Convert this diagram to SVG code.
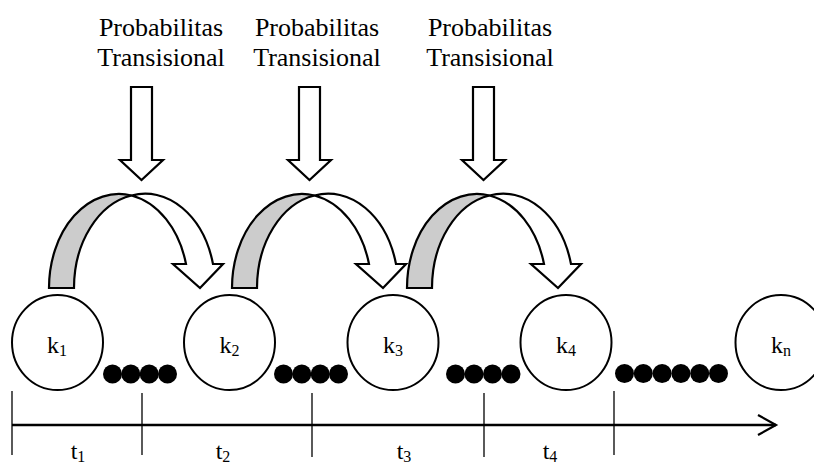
<svg xmlns="http://www.w3.org/2000/svg" width="814" height="464" viewBox="0 0 814 464">
<defs>
<style>
.t{font-family:"Liberation Serif","Times New Roman",serif;fill:#000}
.lbl{font-size:26px;text-anchor:middle}
.k{font-size:24px;text-anchor:middle}
.node{fill:#fff;stroke:#000;stroke-width:2}
.grey{fill:#cccccc;stroke:#000;stroke-width:2.2;stroke-linejoin:miter}
.white{fill:#fff;stroke:#000;stroke-width:2.2;stroke-linejoin:miter}
.dot{fill:#000}
.tick{stroke:#000;stroke-width:1.3}
</style>
<g id="curve">
<path class="grey" d="M49,288 A70,94 0 0 1 131.5,195.5 A70,94 0 0 0 74,288 Z"/>
<path class="white" d="M131.5,195.5 A70,94 0 0 1 213,264 L223,264 L200,288 L173,264 L186,264 A70,94 0 0 0 131.5,195.5 Z"/>
</g>
<path id="down" class="white" d="M-10.5,0 H10.5 V73 H21.5 L0,93 L-21.5,73 H-10.5 Z"/>
</defs>

<g id="labels">
<text class="t lbl" x="161" y="36">Probabilitas</text>
<text class="t lbl" x="161" y="66">Transisional</text>
<text class="t lbl" x="317" y="36">Probabilitas</text>
<text class="t lbl" x="317" y="66">Transisional</text>
<text class="t lbl" x="490" y="36">Probabilitas</text>
<text class="t lbl" x="490" y="66">Transisional</text>
</g>

<g id="connectors">
<use href="#down" x="141.5" y="87"/>
<use href="#down" x="309.5" y="87"/>
<use href="#down" x="483.5" y="87"/>
<use href="#curve"/>
<use href="#curve" x="183"/>
<use href="#curve" x="358"/>
</g>

<g id="k1">
<ellipse class="node" cx="57.5" cy="342.5" rx="45.5" ry="47.5"/>
<text class="t k" x="57" y="353">k<tspan font-size="16" dy="3">1</tspan></text>
</g>
<g id="k2">
<ellipse class="node" cx="229.5" cy="342.5" rx="45.5" ry="47.5"/>
<text class="t k" x="229.5" y="353">k<tspan font-size="16" dy="3">2</tspan></text>
</g>
<g id="k3">
<ellipse class="node" cx="393" cy="342.5" rx="45.5" ry="47.5"/>
<text class="t k" x="393" y="353">k<tspan font-size="16" dy="3">3</tspan></text>
</g>
<g id="k4">
<ellipse class="node" cx="566" cy="342.5" rx="45.5" ry="47.5"/>
<text class="t k" x="566" y="353">k<tspan font-size="16" dy="3">4</tspan></text>
</g>
<g id="kn">
<ellipse class="node" cx="781" cy="342.5" rx="45.5" ry="47.5"/>
<text class="t k" x="781" y="353">k<tspan font-size="16" dy="3">n</tspan></text>
</g>

<g id="dots">
<circle class="dot" cx="112.5" cy="374" r="9.5"/>
<circle class="dot" cx="130.8" cy="374" r="9.5"/>
<circle class="dot" cx="149.2" cy="374" r="9.5"/>
<circle class="dot" cx="167.5" cy="374" r="9.5"/>
<circle class="dot" cx="283.5" cy="374" r="9.5"/>
<circle class="dot" cx="301.8" cy="374" r="9.5"/>
<circle class="dot" cx="320.2" cy="374" r="9.5"/>
<circle class="dot" cx="338.5" cy="374" r="9.5"/>
<circle class="dot" cx="455.5" cy="374" r="9.5"/>
<circle class="dot" cx="474" cy="374" r="9.5"/>
<circle class="dot" cx="492.5" cy="374" r="9.5"/>
<circle class="dot" cx="511" cy="374" r="9.5"/>
<circle class="dot" cx="624.5" cy="373.5" r="9.5"/>
<circle class="dot" cx="643.3" cy="373.5" r="9.5"/>
<circle class="dot" cx="662.1" cy="373.5" r="9.5"/>
<circle class="dot" cx="680.9" cy="373.5" r="9.5"/>
<circle class="dot" cx="699.7" cy="373.5" r="9.5"/>
<circle class="dot" cx="718.5" cy="373.5" r="9.5"/>
</g>

<g id="timeline">
<line x1="12" y1="425" x2="776" y2="425" stroke="#000" stroke-width="2.5"/>
<polyline points="758,415 776,425 758,435" fill="none" stroke="#000" stroke-width="2.2"/>
<line class="tick" x1="12" y1="391" x2="12" y2="455"/>
<line class="tick" x1="142" y1="393" x2="142" y2="455"/>
<line class="tick" x1="312" y1="393" x2="312" y2="457"/>
<line class="tick" x1="484" y1="393" x2="484" y2="457"/>
<line class="tick" x1="614" y1="391" x2="614" y2="455"/>
<text class="t k" x="78" y="459">t<tspan font-size="16" dy="3">1</tspan></text>
<text class="t k" x="223" y="459">t<tspan font-size="16" dy="3">2</tspan></text>
<text class="t k" x="404" y="459">t<tspan font-size="16" dy="3">3</tspan></text>
<text class="t k" x="550" y="459">t<tspan font-size="16" dy="3">4</tspan></text>
</g>
</svg>
